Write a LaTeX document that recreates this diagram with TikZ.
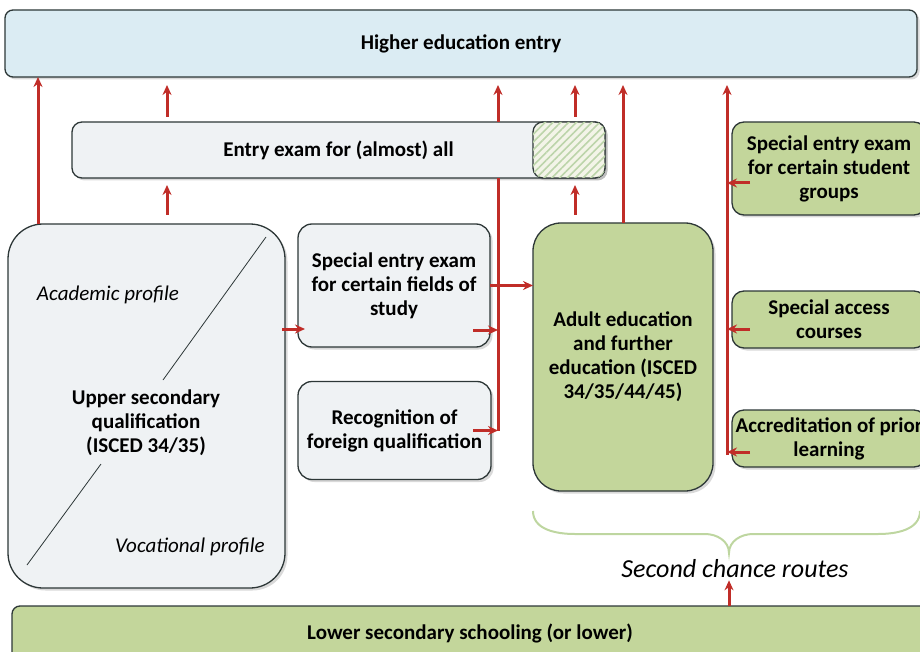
\documentclass[tikz,border=0pt]{standalone}
\usepackage{fontspec}
\setmainfont{Carlito}
\usetikzlibrary{arrows.meta,positioning,shadows,patterns.meta}
\definecolor{heblue}{RGB}{219,236,243}
\definecolor{boxgrey}{RGB}{239,242,244}
\definecolor{routegreen}{RGB}{195,214,155}
\definecolor{hatchbg}{RGB}{243,244,232}
\definecolor{hatchline}{RGB}{188,212,170}
\definecolor{pathred}{RGB}{192,45,40}
\definecolor{edge}{RGB}{45,55,55}
\definecolor{bracegreen}{RGB}{190,214,160}

\begin{document}
\begin{tikzpicture}[
  x=1pt, y=-1pt,
  box/.style={draw=edge, line width=1.3pt, align=center, inner sep=0pt,
              outer sep=0pt, font=\fontsize{21}{24}\selectfont\bfseries,
              drop shadow={shadow xshift=2.5pt, shadow yshift=-2.5pt,
                           opacity=.3}},
  hebox/.style={box, fill=heblue, rounded corners=8pt},
  greybox/.style={box, fill=boxgrey, rounded corners=14pt},
  grnbox/.style={box, fill=routegreen, rounded corners=12pt},
  hatchbox/.style={box, fill=hatchbg, rounded corners=10pt,
                   postaction={pattern={Lines[angle=45,distance=5.5pt,
                                              line width=1.6pt]},
                               pattern color=hatchline}},
  prof/.style={font=\fontsize{21}{24}\selectfont\itshape, inner sep=1pt},
  arr/.style={-{Stealth[length=10pt,width=9pt]}, line width=3pt,
              draw=pathred},
  trunk/.style={line width=3pt, draw=pathred},
  diag/.style={draw=edge, line width=0.8pt},
  bracec/.style={draw=bracegreen, line width=2pt}]

\useasboundingbox (0,0) rectangle (920,652);
\clip (0,0) rectangle (920,652);

\coordinate (ca) at (38,0);
\coordinate (cb) at (167,0);
\coordinate (cf) at (498,0);
\coordinate (ch) at (575,0);
\coordinate (cd) at (623,0);
\coordinate (cg) at (727,455);
\coordinate (tip) at (729,553);

\node[hebox, minimum width=912pt, minimum height=67pt] (he) at (461,43.5)
     {Higher education entry};
\node[greybox, rounded corners=10pt, minimum width=533pt,
      minimum height=56pt] (exam) at (338.5,150)
     {Entry exam for (almost) all};
\node[hatchbox, minimum width=72pt, minimum height=56pt] (part) at (569,150) {};

\node[greybox, rounded corners=35pt, minimum width=277pt,
      minimum height=364pt] (upper) at (146.5,406) {};
\draw[diag] (266,237) -- (163,380);
\draw[diag] (101,464) -- (27,565);
\node[font=\fontsize{21}{24}\selectfont\bfseries, align=center]
     (uppertxt) at (146,423) {Upper secondary\\qualification\\(ISCED 34/35)};
\node[prof] (acad) at (108,295) {Academic profile};
\node[prof] (voc)  at (190,547) {Vocational profile};

\node[greybox, minimum width=192pt, minimum height=123pt] (fields)
     at (394,285.5) {Special entry exam\\for certain fields of\\study};
\node[greybox, minimum width=193pt, minimum height=98pt] (recog)
     at (394.5,430.5) {Recognition of\\foreign qualification};
\node[grnbox, rounded corners=28pt, minimum width=180pt,
      minimum height=268pt] (adult) at (623,357)
     {Adult education\\and further\\education (ISCED\\34/35/44/45)};

\node[grnbox, minimum width=194pt, minimum height=93pt] (groups)
     at (829,168.5) {Special entry exam\\for certain student\\groups};
\node[grnbox, minimum width=194pt, minimum height=57pt] (access)
     at (829,319.5) {Special access\\courses};
\node[grnbox, minimum width=194pt, minimum height=57pt] (accred)
     at (829,438.5) {Accreditation of prior\\learning};

\node[grnbox, rounded corners=8pt, minimum width=916pt,
      minimum height=54pt] (lower) at (470,633)
     {Lower secondary schooling (or lower)};
\node[font=\fontsize{26}{30}\selectfont\itshape, inner sep=2pt] (routes)
     at (735,569) {Second chance routes};

\draw[bracec] (533,511) to[out=-90,in=180] (575,534) -- (705,534)
              to[out=0,in=90] (tip) to[out=90,in=180] (753,534)
              -- (878,534) to[out=0,in=-90] (920,511);

\draw[arr] (upper.north -| ca) -- (he.south -| ca);
\draw[arr, shorten <=5pt, shorten >=8pt] (exam.north -| cb) -- (he.south -| cb);
\draw[arr, shorten <=9pt, shorten >=7pt] (upper.north -| cb) -- (exam.south -| cb);
\draw[arr, shorten <=5pt, shorten >=8pt] (part.north -| ch) -- (he.south -| ch);
\draw[arr, shorten <=8pt, shorten >=7pt] (adult.north -| ch) -- (part.south -| ch);
\draw[arr, shorten >=8pt] (adult.north -| cd) -- (he.south -| cd);
\draw[trunk] (recog.east -| cf) -- (exam.south -| cf);
\draw[arr, shorten >=8pt] (exam.north -| cf) -- (he.south -| cf);
\draw[arr] ([xshift=-18pt]recog.east) -- (recog.east -| cf);
\draw[arr] ([xshift=-17pt,yshift=17pt]fields.south east) -- ++(25,0);
\draw[arr] (fields.east) -- (fields.east -| adult.west);
\draw[arr] ([xshift=-16pt,yshift=18pt]fields.south west) -- ++(23,0);
\draw[arr, shorten >=8pt] (cg) -- (cg |- he.south);
\draw[arr] ([xshift=18pt,yshift=-14.5pt]groups.west) -- ++(-23,0);
\draw[arr] ([xshift=18pt,yshift=-9.5pt]access.west) -- ++(-23,0);
\draw[arr] ([xshift=18pt,yshift=-13.5pt]accred.west) -- ++(-23,0);
\draw[arr] (lower.north -| tip) -- (tip |- routes.south);
\end{tikzpicture}
\end{document}
